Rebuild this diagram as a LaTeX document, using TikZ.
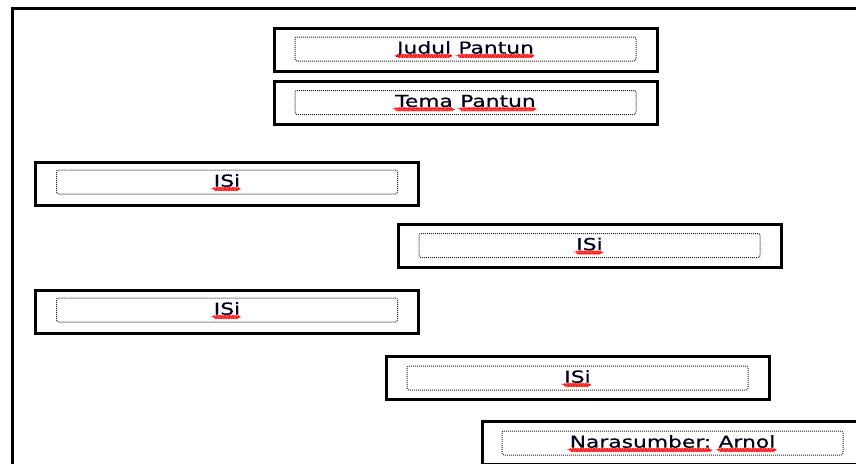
\documentclass[tikz,border=0pt]{standalone}
\usepackage{fontspec}
\newfontfamily\boxfont[FakeStretch=1.32,FakeBold=0.6]{DejaVu Sans}
\usetikzlibrary{decorations.pathmorphing}
\newcommand\splw[1]{\tikz[baseline=(w.base)]{\node[draw=none,solid,rounded corners=0pt,minimum width=0pt,minimum height=0pt,inner sep=0pt,outer sep=0pt,anchor=base](w){#1};\draw[solid,red!90,line width=0.45pt,decorate,decoration={snake,amplitude=0.6pt,segment length=2.6pt}]([yshift=-2.4pt]w.base west)--([yshift=-2.4pt]w.base east);}}
\tikzset{
  outerbox/.style={draw=black,line width=3pt,minimum width=383pt,minimum height=43pt,inner sep=0pt},
  innerbox/.style={draw=black!85,line width=1pt,dash pattern=on 1pt off 1pt,rounded corners=2pt,minimum width=341pt,minimum height=24pt,inner sep=0pt,font=\boxfont\fontsize{16.5}{18}\selectfont,text=black!90!blue},
  frame/.style={draw=black,line width=3pt}
}
\begin{document}
\begin{tikzpicture}[x=1pt,y=-1pt]
\useasboundingbox (0,0) rectangle (856,463);
\clip (0,0) rectangle (856,463);
\fill[white] (0,0) rectangle (856,463);
\draw[frame] (12,8) rectangle (900,520);
% outer boxes
\node[outerbox] (o1) at (465.5,49.5) {};
\node[outerbox] (o2) at (465.5,102.5) {};
\node[outerbox] (o3) at (226.5,183.5) {};
\node[outerbox] (o4) at (589.5,245.5) {};
\node[outerbox] (o5) at (226.5,311.5) {};
\node[outerbox] (o6) at (577.5,377.5) {};
\node[outerbox] (o7) at (673.5,442.5) {};
% inner dotted boxes with text
\node[innerbox] (i1) at (465.5,49) {\splw{Judul} \splw{Pantun}};
\node[innerbox] (i2) at (465.5,102.5) {\splw{Tema} \splw{Pantun}};
\node[innerbox] (i3) at (227,182) {\splw{ISi}};
\node[innerbox] (i4) at (589.5,245.5) {\splw{ISi}};
\node[innerbox] (i5) at (227,310) {\splw{ISi}};
\node[innerbox] (i6) at (577.5,378) {\splw{ISi}};
\node[innerbox] (i7) at (672.5,443) {\splw{Narasumber:} \splw{Arnol}};
\end{tikzpicture}
\end{document}
